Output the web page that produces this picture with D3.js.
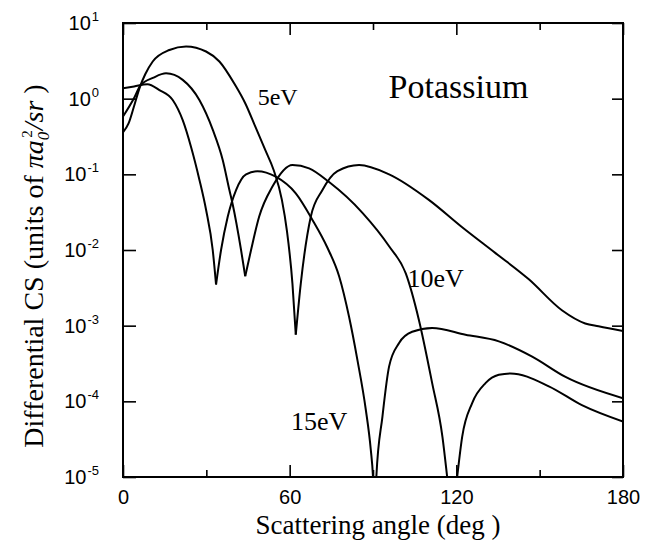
<!DOCTYPE html>
<html>
<head>
<meta charset="utf-8">
<title>Potassium differential cross section</title>
<script src="https://d3js.org/d3.v7.min.js"></script>
<style>
  body { margin: 0; background: #fff; }
  svg { display: block; }
  .tick text { font-family: "Liberation Sans", Arial, sans-serif; font-size: 20px; fill: #000; }
  .tick line { stroke: #000; stroke-width: 1.6; }
  .serif { font-family: "Liberation Serif", "Times New Roman", serif; fill: #000; }
</style>
</head>
<body>
<div id="chart"></div>
<script>
// scattering angle (deg) vs differential cross section (units of pi a0^2 / sr)
const angle5 = [0, 2, 4, 6, 8, 10.7, 16.7, 22.7, 29.9, 34.7, 40.4, 44, 47.6, 51.2, 54.2, 57.2, 59, 61, 62.2, 64, 67.6, 71.8, 77.2, 85, 95.8, 110.1, 122.1, 134.1, 146.1, 158, 166.4, 171.2, 180];
const cs5 = [0.36, 0.47, 0.8, 1.4, 2.1, 3.1, 4.4, 4.9, 4.2, 3.1, 1.51, 0.87, 0.43, 0.21, 0.115, 0.046, 0.018, 0.0036, 0.00076, 0.0036, 0.0275, 0.062, 0.11, 0.133, 0.10, 0.046, 0.020, 0.0091, 0.0041, 0.0016, 0.00107, 0.00098, 0.00085];

const angle10 = [0, 4, 6.3, 11, 15.5, 21.5, 27.5, 32.3, 35.9, 38.3, 39.5, 42.5, 44, 46.1, 49, 53.8, 61, 67, 74.2, 86.2, 95.8, 101.8, 106.5, 111.3, 115, 116.7, 118.5, 120.3, 122.1, 125.7, 130.5, 135.3, 139.5, 153.3, 165.2, 180];
const cs10 = [0.58, 1.02, 1.5, 1.9, 2.16, 1.77, 0.96, 0.39, 0.155, 0.062, 0.040, 0.010, 0.0045, 0.010, 0.0275, 0.069, 0.133, 0.12, 0.079, 0.031, 0.0112, 0.0049, 0.0012, 1.74e-4, 3.4e-5, 1.0e-5, 2.5e-6, 1.0e-5, 3.4e-5, 9.5e-5, 1.74e-4, 2.24e-4, 2.34e-4, 1.58e-4, 8.9e-5, 5.4e-5];

const angle15 = [0, 4, 8.8, 13.1, 17.9, 21.5, 24.5, 27.5, 29.9, 32.3, 33.5, 35.3, 37.7, 40.7, 44.3, 48.4, 55, 62.2, 68.2, 73.6, 77.8, 81.4, 84.4, 87.4, 89.2, 90, 90.6, 91.2, 93.4, 95.8, 99.4, 104.1, 111.3, 123.3, 135.3, 147.3, 159.3, 180];
const cs15 = [1.37, 1.45, 1.55, 1.30, 0.96, 0.52, 0.23, 0.085, 0.034, 0.010, 0.0035, 0.010, 0.0275, 0.062, 0.10, 0.11, 0.093, 0.056, 0.025, 0.0107, 0.0045, 0.0013, 3.5e-4, 7.8e-5, 2.3e-5, 1.0e-5, 2.5e-6, 1.0e-5, 6.3e-5, 2.9e-4, 5.9e-4, 8.3e-4, 9.3e-4, 7.6e-4, 6.2e-4, 3.9e-4, 2.1e-4, 1.1e-4];

const xMajor = [0, 60, 120, 180];
const xMinor = [30, 90, 150];
const yTicks = [1e-5, 1e-4, 1e-3, 1e-2, 1e-1, 1, 10];
const yExponents = ["-5", "-4", "-3", "-2", "-1", "0", "1"];

const series = [
  { name: "5eV", x: angle5, y: cs5 },
  { name: "10eV", x: angle10, y: cs10 },
  { name: "15eV", x: angle15, y: cs15 }
];

const width = 655, height = 545;
const margin = { top: 23, right: 32, bottom: 68, left: 123 };
const w = width - margin.left - margin.right;
const h = height - margin.top - margin.bottom;

const svg = d3.select("#chart").append("svg")
  .attr("width", width)
  .attr("height", height)
  .style("background", "#fff");

const g = svg.append("g").attr("transform", `translate(${margin.left},${margin.top})`);

const x = d3.scaleLinear().domain([0, 180]).range([0, w]);
const y = d3.scaleLog().domain([1e-5, 10]).range([h, 0]);

g.append("clipPath").attr("id", "plot-clip")
  .append("rect").attr("width", w).attr("height", h);

// ticks point inward on all four sides
g.append("g").attr("transform", `translate(0,${h})`)
  .call(d3.axisBottom(x).tickValues(xMajor).tickSizeInner(-12).tickSizeOuter(0).tickPadding(13).tickFormat(d3.format("d")));
g.append("g").attr("transform", `translate(0,${h})`)
  .call(d3.axisBottom(x).tickValues(xMinor).tickSizeInner(-7).tickSizeOuter(0).tickFormat(""));
g.append("g")
  .call(d3.axisTop(x).tickValues(xMajor).tickSizeInner(-12).tickSizeOuter(0).tickFormat(""));
g.append("g")
  .call(d3.axisTop(x).tickValues(xMinor).tickSizeInner(-7).tickSizeOuter(0).tickFormat(""));
g.append("g")
  .call(d3.axisLeft(y).tickValues(yTicks).tickSizeInner(-13).tickSizeOuter(0).tickFormat(""));
g.append("g").attr("transform", `translate(${w},0)`)
  .call(d3.axisRight(y).tickValues(yTicks).tickSizeInner(-11).tickSizeOuter(0).tickFormat(""));
g.selectAll(".domain").remove();

// 10^n labels
const yl = g.append("g");
yTicks.forEach((v, i) => {
  const t = yl.append("text")
    .attr("x", -24)
    .attr("y", y(v) + 7)
    .attr("text-anchor", "end")
    .style("font-family", "'Liberation Sans', Arial, sans-serif")
    .style("font-size", "20px");
  t.append("tspan").text("10");
  t.append("tspan").attr("dx", 1).attr("dy", -9).style("font-size", "13px").text(yExponents[i]);
});

g.append("rect")
  .attr("width", w).attr("height", h)
  .attr("fill", "none").attr("stroke", "#000").attr("stroke-width", 2);

// curves, broken at the sharp minima so the cusps stay pointed
const line = d3.line()
  .x(d => x(d[0]))
  .y(d => y(d[1]))
  .curve(d3.curveMonotoneX);

const curves = g.append("g").attr("clip-path", "url(#plot-clip)");
series.forEach(s => {
  const pts = s.x.map((a, i) => [a, s.y[i]]);
  let seg = [pts[0]];
  for (let i = 1; i < pts.length; i++) {
    seg.push(pts[i]);
    const isMin = i < pts.length - 1 && pts[i][1] < pts[i - 1][1] && pts[i][1] < pts[i + 1][1];
    if (isMin) {
      curves.append("path").datum(seg).attr("d", line)
        .attr("fill", "none").attr("stroke", "#000").attr("stroke-width", 2);
      seg = [pts[i]];
    }
  }
  curves.append("path").datum(seg).attr("d", line)
    .attr("fill", "none").attr("stroke", "#000").attr("stroke-width", 2);
});

// annotations
g.append("text").attr("class", "serif")
  .attr("x", x(95.6)).attr("y", y(1.02))
  .style("font-size", "34px").text("Potassium");
g.append("text").attr("class", "serif")
  .attr("x", x(48.5)).attr("y", y(0.83))
  .style("font-size", "24px").text("5eV");
g.append("text").attr("class", "serif")
  .attr("x", x(102.4)).attr("y", y(3.2e-3))
  .style("font-size", "26px").text("10eV");
g.append("text").attr("class", "serif")
  .attr("x", x(60.5)).attr("y", y(4.2e-5))
  .style("font-size", "26px").text("15eV");

// axis titles
svg.append("text").attr("class", "serif")
  .attr("x", 378).attr("y", 534)
  .attr("text-anchor", "middle")
  .style("font-size", "27px")
  .text("Scattering angle (deg )");

const yt = svg.append("text").attr("class", "serif")
  .attr("transform", "translate(43,266) rotate(-90)")
  .attr("text-anchor", "middle")
  .style("font-size", "28px");
yt.append("tspan").text("Differential CS (units of ");
yt.append("tspan").style("font-style", "italic").text("πa");
yt.append("tspan").attr("dy", 6).style("font-size", "17px").style("font-style", "italic").text("0");
yt.append("tspan").attr("dx", -6).attr("dy", -17).style("font-size", "15px").text("2");
yt.append("tspan").attr("dy", 11).style("font-style", "italic").text("/sr");
yt.append("tspan").text(" )");
</script>
</body>
</html>
